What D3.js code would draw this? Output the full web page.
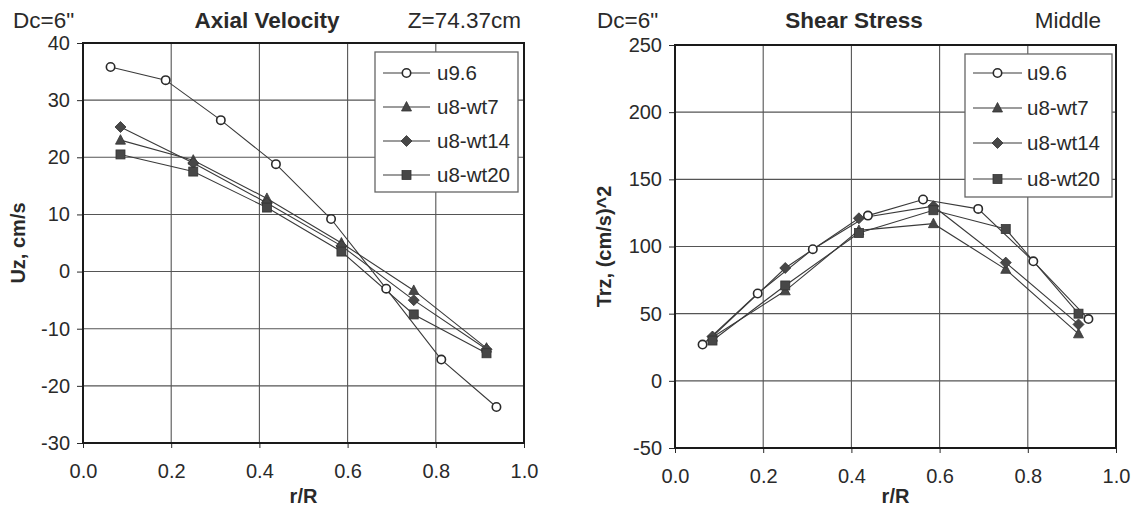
<!DOCTYPE html>
<html><head><meta charset="utf-8">
<script src="https://cdn.jsdelivr.net/npm/d3@7"></script>
<style>
body{margin:0;background:#fff;}
svg{display:block;}
text{font-family:"Liberation Sans",Arial,sans-serif;fill:#2a2a2a;}
</style></head>
<body><svg id="c" width="1135" height="516"></svg>
<script>
// r/R positions
const rU96 = [0.0625, 0.1875, 0.3125, 0.4375, 0.5625, 0.6875, 0.8125, 0.9375];
const rWt = [0.085, 0.25, 0.417, 0.586, 0.75, 0.915];
const seriesNames = ["u9.6", "u8-wt7", "u8-wt14", "u8-wt20"];
const xTicks = [0.0, 0.2, 0.4, 0.6, 0.8, 1.0];

// Axial velocity Uz (cm/s)
const axU96 = [35.8, 33.5, 26.5, 18.8, 9.2, -3.0, -15.4, -23.7];
const axWt7 = [23.0, 19.5, 12.8, 5.0, -3.3, -13.4];
const axWt14 = [25.3, 19.0, 12.0, 4.5, -5.0, -13.6];
const axWt20 = [20.5, 17.5, 11.2, 3.5, -7.5, -14.3];
const axYTicks = [-30, -20, -10, 0, 10, 20, 30, 40];

// Shear stress Trz (cm/s)^2
const shU96 = [27, 65, 98, 123, 135, 128, 89, 46];
const shWt7 = [32.5, 67, 112, 117, 83, 35];
const shWt14 = [33, 84, 121, 130, 88, 42];
const shWt20 = [30, 71, 110, 127, 113, 50];
const shYTicks = [-50, 0, 50, 100, 150, 200, 250];

const svg = d3.select("#c");
const ink = "#2a2a2a";
const markerFill = "#474747";

function marker(g, type, x, y) {
  if (type === 0) {
    g.append("circle").attr("cx", x).attr("cy", y).attr("r", 4.2)
      .attr("fill", "#fff").attr("stroke", ink).attr("stroke-width", 1.6);
  } else if (type === 1) {
    g.append("path").attr("d", "M0,-5.5L5,4L-5,4Z")
      .attr("transform", `translate(${x},${y})`)
      .attr("fill", markerFill).attr("stroke", "#333").attr("stroke-width", 0.8);
  } else if (type === 2) {
    g.append("path").attr("d", "M0,-5.5L5.5,0L0,5.5L-5.5,0Z")
      .attr("transform", `translate(${x},${y})`)
      .attr("fill", markerFill).attr("stroke", "#333").attr("stroke-width", 0.8);
  } else {
    g.append("rect").attr("x", x - 4.5).attr("y", y - 4.5).attr("width", 9).attr("height", 9)
      .attr("fill", markerFill).attr("stroke", "#333").attr("stroke-width", 0.8);
  }
}

function chart(opt) {
  const g = svg.append("g");
  const x = d3.scaleLinear().domain([0, 1]).range([opt.x0, opt.x1]);
  const y = d3.scaleLinear().domain(opt.yDomain).range([opt.yBot, opt.yTop]);

  // grid
  g.append("g").selectAll("line").data(opt.yTicks).join("line")
    .attr("x1", opt.x0).attr("x2", opt.x1).attr("y1", d => y(d)).attr("y2", d => y(d))
    .attr("stroke", "#555").attr("stroke-width", 1.1);
  g.append("g").selectAll("line").data(xTicks).join("line")
    .attr("y1", opt.yTop).attr("y2", opt.yBot).attr("x1", d => x(d)).attr("x2", d => x(d))
    .attr("stroke", "#555").attr("stroke-width", 1.1);

  // axes
  const ax = g.append("g").attr("transform", `translate(0,${opt.yBot})`)
    .call(d3.axisBottom(x).tickValues(xTicks).tickFormat(d => d.toFixed(1)).tickSize(5).tickPadding(16));
  const ay = g.append("g").attr("transform", `translate(${opt.x0},0)`)
    .call(d3.axisLeft(y).tickValues(opt.yTicks).tickFormat(d => String(d)).tickSize(6).tickPadding(7));
  [ax, ay].forEach(a => {
    a.select(".domain").remove();
    a.selectAll("line").attr("stroke", ink);
    a.selectAll("text").style("font-size", "20px").attr("fill", "#333")
      .style("font-family", "'Liberation Sans',Arial,sans-serif");
  });

  // border
  g.append("rect").attr("x", opt.x0).attr("y", opt.yTop)
    .attr("width", opt.x1 - opt.x0).attr("height", opt.yBot - opt.yTop)
    .attr("fill", "none").attr("stroke", "#1a1a1a").attr("stroke-width", 2);

  // series
  const line = d3.line().x(d => x(d[0])).y(d => y(d[1]));
  opt.series.forEach((s, i) => {
    const pts = s.r.map((r, k) => [r, s.v[k]]);
    g.append("path").attr("d", line(pts)).attr("fill", "none")
      .attr("stroke", "#3a3a3a").attr("stroke-width", 1.1);
  });
  opt.series.forEach((s, i) => {
    s.r.forEach((r, k) => marker(g, i, x(r), y(s.v[k])));
  });

  // legend
  const L = opt.legend;
  g.append("rect").attr("x", L.x).attr("y", L.y).attr("width", L.w).attr("height", L.h)
    .attr("fill", "#fff").attr("stroke", "#666").attr("stroke-width", 1.3);
  seriesNames.forEach((n, i) => {
    const yy = L.rows[i];
    g.append("line").attr("x1", L.lx0).attr("x2", L.lx1).attr("y1", yy).attr("y2", yy)
      .attr("stroke", "#3a3a3a").attr("stroke-width", 1.1);
    marker(g, i, (L.lx0 + L.lx1) / 2, yy);
    g.append("text").attr("x", L.tx).attr("y", yy + 7).text(n).style("font-size", "20.5px");
  });

  // headers
  g.append("text").attr("x", opt.dcX).attr("y", 28).text('Dc=6"').style("font-size", "22.5px");
  g.append("text").attr("x", opt.titleX).attr("y", 28).attr("text-anchor", "middle")
    .text(opt.title).style("font-size", "22.5px").style("font-weight", "bold");
  g.append("text").attr("x", opt.x1 - opt.rightGap).attr("y", 28).attr("text-anchor", "end")
    .text(opt.rightText).style("font-size", "22.5px");

  // axis titles
  g.append("text").attr("x", (opt.x0 + opt.x1) / 2).attr("y", 503).attr("text-anchor", "middle")
    .text("r/R").style("font-size", "20px").style("font-weight", "bold");
  g.append("text").attr("transform", `translate(${opt.ytX},${(opt.yTop + opt.yBot) / 2}) rotate(-90)`)
    .attr("text-anchor", "middle").text(opt.yTitle).style("font-size", "20px").style("font-weight", "bold");
}

chart({
  x0: 83, x1: 524, yTop: 43, yBot: 443, yDomain: [-30, 40], yTicks: axYTicks,
  series: [
    {r: rU96, v: axU96}, {r: rWt, v: axWt7}, {r: rWt, v: axWt14}, {r: rWt, v: axWt20}
  ],
  legend: {x: 375, y: 52, w: 143, h: 140, rows: [73, 107, 141, 175], lx0: 383, lx1: 430, tx: 437},
  dcX: 13, title: "Axial Velocity", titleX: 267, rightText: "Z=74.37cm", rightGap: 3,
  yTitle: "Uz, cm/s", ytX: 25
});

chart({
  x0: 675, x1: 1116, yTop: 45, yBot: 448, yDomain: [-50, 250], yTicks: shYTicks,
  series: [
    {r: rU96, v: shU96}, {r: rWt, v: shWt7}, {r: rWt, v: shWt14}, {r: rWt, v: shWt20}
  ],
  legend: {x: 965, y: 54, w: 147, h: 143, rows: [73, 108, 143, 179], lx0: 973, lx1: 1022, tx: 1027},
  dcX: 597, title: "Shear Stress", titleX: 854, rightText: "Middle", rightGap: 15,
  yTitle: "Trz, (cm/s)^2", ytX: 611
});
</script></body></html>
